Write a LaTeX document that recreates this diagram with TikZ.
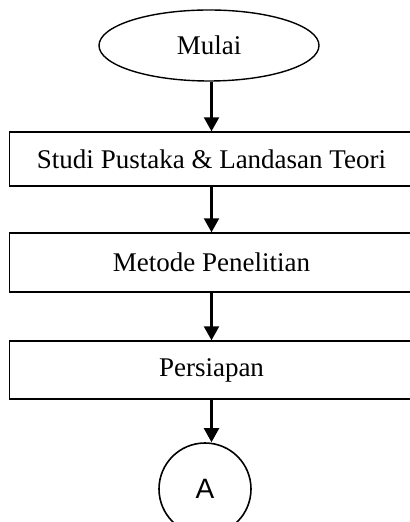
\documentclass[tikz,border=0pt]{standalone}
\usepackage{fontspec}
\setmainfont{Liberation Serif}
\newfontfamily\arialfont{Liberation Sans}
\usetikzlibrary{arrows.meta, positioning, shapes.geometric}

\begin{document}
\begin{tikzpicture}[x=0.5pt, y=-0.5pt, >={Triangle[width=7.5pt, length=7pt]}]
		\tikzstyle{terminal} = [draw=black, line width=0.7pt, ellipse, inner sep=0pt, minimum width=110pt, minimum height=35.5pt, font=\fontsize{13.5}{16}\selectfont]
		\tikzstyle{proses} = [draw=black, line width=0.7pt, rectangle, inner sep=0pt, minimum width=202pt, font=\fontsize{13.5}{16}\selectfont]
		\tikzstyle{konektor} = [draw=black, line width=0.8pt, circle, inner sep=0pt, minimum size=46pt, font=\arialfont\fontsize{14}{16}\selectfont]
		
		\useasboundingbox (0, 0) rectangle (410, 522);
		
		\node[terminal] 	at (209, 45.5) 		(mulai) 	{Mulai};
		\node[proses, minimum height=27pt] 	at (211.5, 159) 	(studi) 	{Studi Pustaka \& Landasan Teori};
		\node[proses, minimum height=29.5pt] 	at (211.5, 262.5) 	(metode) 	{Metode Penelitian};
		\node[proses, minimum height=29pt] 	at (211.5, 370) 	(persiapan) 	{Persiapan};
		\node[konektor] 	at (205, 489) 		(A) 	{A};
		
		\path[->, line width=1.1pt]
		(studi.north |- mulai.south)	edge	(studi.north)
		(studi.south)	edge	(metode.north)
		(metode.south)	edge	(persiapan.north)
		(persiapan.south)	edge	(persiapan.south |- A.north);
		\end{tikzpicture}
\end{document}
